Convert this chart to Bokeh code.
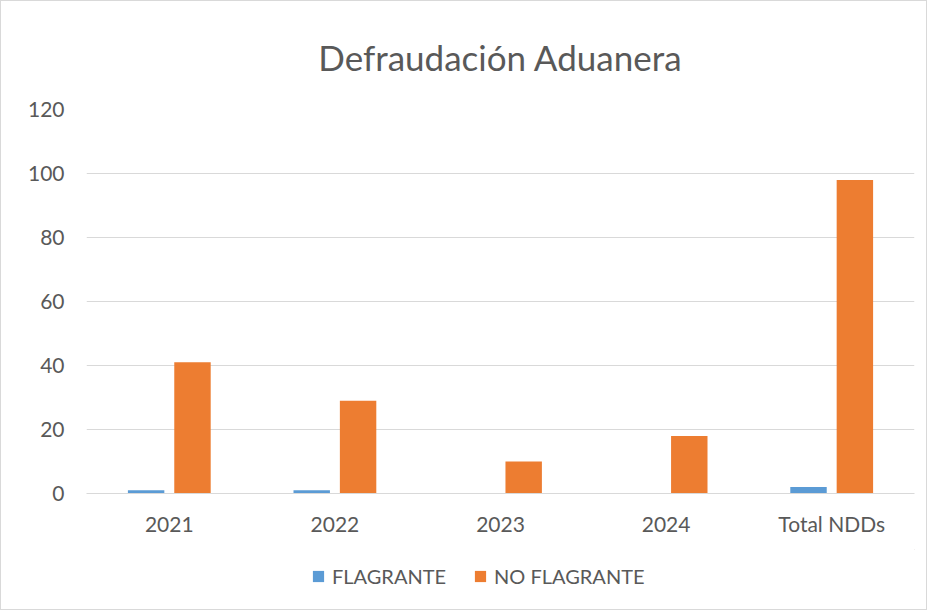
from bokeh.plotting import figure
from bokeh.layouts import column
from bokeh.models import FactorRange, Legend, LegendItem, Title, SingleIntervalTicker, ColumnDataSource
from bokeh.transform import dodge
from bokeh.embed import file_html
from bokeh.resources import INLINE

categories = ["2021", "2022", "2023", "2024", "Total NDDs"]
flagrante = [1, 1, 0, 0, 2]
no_flagrante = [41, 29, 10, 18, 98]
series_names = ["FLAGRANTE", "NO FLAGRANTE"]
title_text = "Defraudación Aduanera"

FONT = "Lato"
TXT = "#595959"
BLUE = "#5b9bd5"
ORANGE = "#ed7d31"

src = ColumnDataSource(dict(cat=categories, f=flagrante, nf=no_flagrante))

p = figure(x_range=FactorRange(*categories, range_padding=0), y_range=(0, 120),
           width=925, height=548, output_backend="svg", toolbar_location=None,
           min_border_left=85, min_border_right=12, min_border_top=107, min_border_bottom=56)

p.vbar(x=dodge("cat", -0.14, range=p.x_range), top="f", width=0.22, source=src,
       fill_color=BLUE, line_color=None)
p.vbar(x=dodge("cat", 0.14, range=p.x_range), top="nf", width=0.22, source=src,
       fill_color=ORANGE, line_color=None)

t = Title(text=title_text, align="center", text_font=FONT, text_font_size="35px",
          text_font_style="normal", text_color=TXT, standoff=64)
p.add_layout(t, "above")

p.outline_line_color = None
p.xgrid.grid_line_color = None
p.ygrid.grid_line_color = "#d9d9d9"
p.yaxis.ticker = SingleIntervalTicker(interval=20)
p.yaxis.axis_line_color = None
p.yaxis.major_tick_line_color = None
p.yaxis.minor_tick_line_color = None
p.yaxis.major_label_text_font = FONT
p.yaxis.major_label_text_font_size = "21px"
p.yaxis.major_label_text_color = TXT
p.yaxis.major_label_standoff = 16

p.xaxis.axis_line_color = "#d9d9d9"
p.xaxis.major_tick_line_color = None
p.xaxis.minor_tick_line_color = None
p.xaxis.major_label_text_font = FONT
p.xaxis.major_label_text_font_size = "21px"
p.xaxis.major_label_text_color = TXT
p.xaxis.major_label_standoff = 11

# legend strip
lf = figure(width=925, height=60, output_backend="svg", toolbar_location=None,
            x_range=(0, 1), y_range=(0, 1), x_axis_type=None, y_axis_type=None,
            min_border=0)
lf.outline_line_color = None
lf.xgrid.grid_line_color = None
lf.ygrid.grid_line_color = None
lsrc = ColumnDataSource(dict(x=[5], top=[5], bottom=[4]))
g1 = lf.vbar(x="x", top="top", bottom="bottom", width=0.1, source=lsrc, fill_color=BLUE, line_color=None)
g2 = lf.vbar(x="x", top="top", bottom="bottom", width=0.1, source=lsrc, fill_color=ORANGE, line_color=None)
legend = Legend(items=[LegendItem(label=series_names[0], renderers=[g1]),
                       LegendItem(label=series_names[1], renderers=[g2])],
                orientation="horizontal", location=(225, 21),
                label_text_font=FONT, label_text_font_size="20px", label_text_color=TXT,
                glyph_width=14, glyph_height=14, spacing=27, label_standoff=7,
                border_line_color=None, background_fill_alpha=0, padding=0, margin=0)
lf.add_layout(legend)

layout = column(p, lf, spacing=0)
layout.styles = {"border": "1px solid #d9d9d9"}

open("out.html", "w").write(file_html(layout, INLINE))
